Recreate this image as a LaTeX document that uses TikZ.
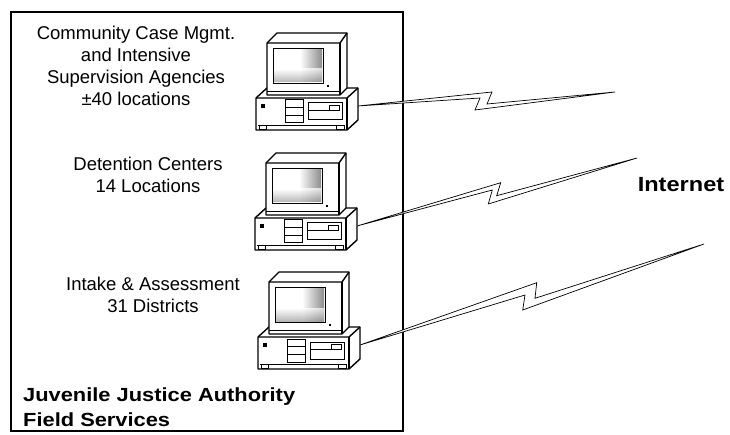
\documentclass[tikz,border=0pt]{standalone}
\usepackage{fontspec}
\setmainfont{Liberation Sans}
\newfontfamily\widesans[FakeStretch=1.15]{Liberation Sans}
\begin{document}
\begin{tikzpicture}[x=1pt,y=-1pt,
  pcline/.style={line width=1.4pt,line join=round},
  detail/.style={line width=0.8pt},
  frame/.style={draw,line width=1.1pt},
  sitelabel/.style={align=center,inner sep=0pt,font=\fontsize{18.5}{22}\selectfont},
  titlelabel/.style={align=left,inner sep=0pt,font=\widesans\bfseries\fontsize{19}{25}\selectfont},
  netlabel/.style={inner sep=0pt,font=\widesans\bfseries\fontsize{20.5}{24}\selectfont},
  bolt/.style={draw,fill=white,line width=0.7pt,line join=miter},
  computer/.pic={
    % desktop case: outline, top edge and right side
    \draw[pcline,fill=white] (0,65) -- (11,55) -- (102,55) -- (102,87) -- (91,97) -- (0,97) -- cycle;
    \draw[pcline] (0,65) -- (91,65) -- (102,55);
    \draw[pcline] (91,65) -- (91,97);
    % feet
    \draw[detail] (2,92) -- (89,92);
    \draw[detail] (3,92) rectangle (10,96);
    \draw[detail] (80,92) rectangle (88,96);
    % power button
    \fill (5,71) rectangle (9,75);
    % drive stack
    \draw[line width=1pt] (29,67) rectangle (47,90);
    \draw[detail] (29,74) -- (47,74) (29,82) -- (47,82);
    % floppy drive
    \draw[line width=1pt] (52,70) rectangle (86,87);
    \draw[detail] (53,77) -- (73,77) (73,72) rectangle (83,77);
    % monitor body
    \draw[pcline,fill=white] (11,10) -- (21,0) -- (91,0) -- (91,55) -- (84,62) -- (11,62) -- cycle;
    \draw[pcline] (11,10) -- (84,10) -- (91,0);
    \draw[pcline] (84,10) -- (84,62);
    \draw[detail] (11,58) -- (84,58);
    % screen with shaded glass
    \shade[left color=white,right color=black!45] (44,16) rectangle (66,49);
    \shade[top color=white,bottom color=black!40,opacity=0.7] (18,36) rectangle (66,49);
    \draw[line width=0.9pt] (17,15) rectangle (67,50);
    \fill (71,52) rectangle (73,54);
    % cable port on the side of the case
    \coordinate (-port) at (102,73);
  }]
\useasboundingbox (0,0) rectangle (730,435);

% field services boundary
\draw[frame] (11,12) rectangle (403,431);

% workstations
\pic (pc1) at (256,33) {computer};
\pic (pc2) at (255,153) {computer};
\pic (pc3) at (258,272) {computer};

% link end points
\coordinate (e1) at (615,92);
\coordinate (e2) at (637,158);
\coordinate (e3) at (704,244);

% lightning-bolt links
\draw[bolt] (pc1-port) -- (492,92) -- (487,104) -- (e1) -- (475,110) -- (480,98) -- cycle;
\draw[bolt] (pc2-port) -- (500.7,182.7) -- (496.7,195.7) -- (e2) -- (488.3,204) -- (492.3,190) -- cycle;
\draw[bolt] (pc3-port) -- (536.7,282.7) -- (535,298.3) -- (e3) -- (522.7,310) -- (525,295) -- cycle;

% labels
\node[sitelabel] (agencies) at (136,66) {Community Case Mgmt.\\and Intensive\\Supervision Agencies\\±40 locations};
\node[sitelabel] (detention) at (148,175) {Detention Centers\\14 Locations};
\node[sitelabel] (intake) at (153,295) {Intake \& Assessment\\31 Districts};
\node[titlelabel,anchor=west] (jja) at (23,407) {Juvenile Justice Authority\\Field Services};
\node[netlabel] (internet) at (681,185) {Internet};
\end{tikzpicture}
\end{document}
